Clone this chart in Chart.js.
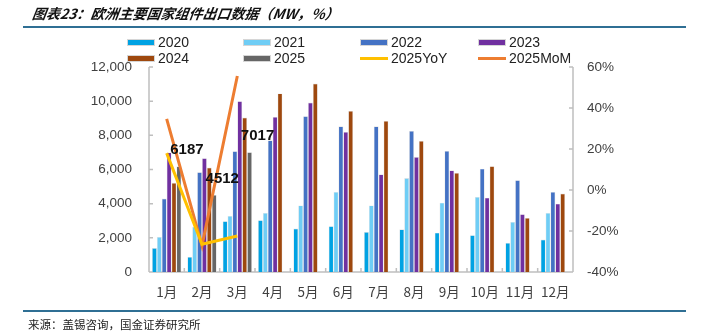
<!DOCTYPE html>
<html>
<head>
<meta charset="utf-8">
<script src="https://cdn.jsdelivr.net/npm/chart.js@4.4.1/dist/chart.umd.min.js"></script>
<style>
  html, body { margin: 0; padding: 0; background: #fff; }
  #wrap { position: relative; width: 702px; height: 333px; overflow: hidden; font-family: "Liberation Sans", Arial, sans-serif; }
  #c { position: absolute; left: 0; top: 0; }
  .title { position: absolute; left: 31px; top: 3px; font-family: "Noto Sans CJK SC", sans-serif; font-size: 14px; font-weight: bold; font-style: italic; color: #111; line-height: 20px; white-space: nowrap; transform: skewX(-8deg); transform-origin: left bottom; }
  .rule { position: absolute; left: 23px; width: 663px; height: 2px; background: #2f6f94; }
  .source { position: absolute; left: 28px; top: 316px; font-family: "Noto Sans CJK SC", sans-serif; font-size: 11.5px; color: #222; line-height: 16px; white-space: nowrap; }
  .lg { position: absolute; height: 16px; line-height: 16px; font-size: 14px; color: #222; white-space: nowrap; }
  .sw { position: absolute; left: 0; width: 28px; box-sizing: border-box; }
  .lg span { position: absolute; left: 31px; top: 0; }
</style>
</head>
<body>
<div id="wrap">
  <canvas id="c" width="702" height="333"></canvas>
  <div class="title">图表23：欧洲主要国家组件出口数据（MW，%）</div>
  <div class="rule" style="top:26px"></div>
  <div class="rule" style="top:310px"></div>
  <div class="source">来源：盖锡咨询，国金证券研究所</div>
  <div id="legend"></div>
</div>
<script>
// Monthly module exports from major European countries (MW) and 2025 growth rates (%)
const months = ['1月','2月','3月','4月','5月','6月','7月','8月','9月','10月','11月','12月'];

const exp2020 = [1400, 880, 2970, 3030, 2540, 2680, 2340, 2500, 2300, 2150, 1700, 1900];
const exp2021 = [2050, 2650, 3280, 3460, 3900, 4690, 3900, 5500, 4060, 4390, 2930, 3460];
const exp2022 = [4300, 5840, 7070, 7710, 9120, 8530, 8530, 8260, 7090, 6050, 5370, 4690];
const exp2023 = [7000, 6660, 10000, 9080, 9920, 8200, 5720, 6730, 5950, 4350, 3380, 4000];
const exp2024 = [5220, 6110, 9040, 10450, 11030, 9430, 8840, 7670, 5800, 6190, 3160, 4590];
const exp2025 = [6187, 4512, 7017, null, null, null, null, null, null, null, null, null];

const yoy2025 = [18, -26.5, -22.4, null, null, null, null, null, null, null, null, null];
const mom2025 = [34.7, -27.1, 55.6, null, null, null, null, null, null, null, null, null];

const leftTicks = [0, 2000, 4000, 6000, 8000, 10000, 12000];
const rightTicks = [-40, -20, 0, 20, 40, 60];

const C = {
  y2020: '#00A2E3', y2021: '#6FCDF5', y2022: '#4472C4', y2023: '#7030A0',
  y2024: '#9E480E', y2025: '#666666', yoy: '#FFC000', mom: '#ED7D31',
  axis: '#BFBFBF', text: '#404040'
};

// Legend, laid out in two rows of four
const legendItems = [
  { t: '2020', c: C.y2020, k: 'bar' }, { t: '2021', c: C.y2021, k: 'bar' },
  { t: '2022', c: C.y2022, k: 'bar' }, { t: '2023', c: C.y2023, k: 'bar' },
  { t: '2024', c: C.y2024, k: 'bar' }, { t: '2025', c: C.y2025, k: 'bar' },
  { t: '2025YoY', c: C.yoy, k: 'line' }, { t: '2025MoM', c: C.mom, k: 'line' }
];
const colX = [127, 243, 360, 478];
const rowY = [34, 49.5];
const lg = document.getElementById('legend');
legendItems.forEach((it, i) => {
  const d = document.createElement('div');
  d.className = 'lg';
  d.style.left = colX[i % 4] + 'px';
  d.style.top = rowY[Math.floor(i / 4)] + 'px';
  const s = document.createElement('div');
  s.className = 'sw';
  if (it.k === 'bar') {
    s.style.top = '5px'; s.style.height = '7px';
    s.style.background = it.c; s.style.border = '1px solid #d6d6d6';
  } else {
    s.style.top = '7px'; s.style.height = '3px'; s.style.background = it.c;
  }
  const t = document.createElement('span');
  t.textContent = it.t;
  d.appendChild(s); d.appendChild(t);
  lg.appendChild(d);
});

function barSet(label, data, color) {
  return {
    type: 'bar', label, data, yAxisID: 'y', order: 10,
    backgroundColor: color, borderColor: '#e2e2e2', borderWidth: 0.6,
    categoryPercentage: 0.83, barPercentage: 1.0
  };
}
function lineSet(label, data, color, order) {
  return {
    type: 'line', label, data, yAxisID: 'y1', order,
    borderColor: color, backgroundColor: color, borderWidth: 3,
    pointRadius: 0, tension: 0, spanGaps: false
  };
}

// Axis lines with inward tick marks
const axisPlugin = {
  id: 'axisLines',
  beforeDatasetsDraw(chart) {
    const { ctx, chartArea: a, scales } = chart;
    ctx.save();
    ctx.strokeStyle = C.axis;
    ctx.lineWidth = 1.5;
    ctx.beginPath();
    ctx.moveTo(a.left, a.top); ctx.lineTo(a.left, a.bottom);
    ctx.moveTo(a.right, a.top); ctx.lineTo(a.right, a.bottom);
    ctx.moveTo(a.left, a.bottom); ctx.lineTo(a.right, a.bottom);
    leftTicks.forEach(v => { const y = scales.y.getPixelForValue(v); ctx.moveTo(a.left, y); ctx.lineTo(a.left + 4, y); });
    rightTicks.forEach(v => { const y = scales.y1.getPixelForValue(v); ctx.moveTo(a.right, y); ctx.lineTo(a.right - 4, y); });
    const w = (a.right - a.left) / months.length;
    for (let i = 1; i < months.length; i++) {
      const x = a.left + i * w;
      ctx.moveTo(x, a.bottom); ctx.lineTo(x, a.bottom - 4);
    }
    ctx.stroke();
    ctx.restore();
  }
};

// Value labels for the 2025 bars
const valueLabels = {
  id: 'valueLabels',
  afterDatasetsDraw(chart) {
    const idx = chart.data.datasets.findIndex(d => d.label === '2025');
    const meta = chart.getDatasetMeta(idx);
    const { ctx } = chart;
    ctx.save();
    ctx.font = 'bold 15px "Liberation Sans", Arial, sans-serif';
    ctx.fillStyle = '#111';
    ctx.textAlign = 'center';
    ctx.textBaseline = 'middle';
    meta.data.forEach((el, i) => {
      const v = exp2025[i];
      if (v == null) return;
      ctx.fillText(String(v), el.x + 8, el.y - 16);
    });
    ctx.restore();
  }
};

const tickFont = { family: '"Liberation Sans", Arial, sans-serif', size: 13.5 };

new Chart(document.getElementById('c'), {
  data: {
    labels: months,
    datasets: [
      barSet('2020', exp2020, C.y2020),
      barSet('2021', exp2021, C.y2021),
      barSet('2022', exp2022, C.y2022),
      barSet('2023', exp2023, C.y2023),
      barSet('2024', exp2024, C.y2024),
      barSet('2025', exp2025, C.y2025),
      lineSet('2025MoM', mom2025, C.mom, 2),
      lineSet('2025YoY', yoy2025, C.yoy, 1)
    ]
  },
  options: {
    responsive: false,
    animation: false,
    layout: { padding: { top: 67, left: 0, right: 0, bottom: 0 } },
    plugins: { legend: { display: false }, tooltip: { enabled: false }, title: { display: false } },
    scales: {
      x: {
        grid: { display: false, drawTicks: false },
        border: { display: false },
        ticks: { color: C.text, font: { family: '"Noto Sans CJK SC", sans-serif', size: 13.5 }, padding: 12, maxRotation: 0, autoSkip: false },
        afterFit(s) { s.height = 61; }
      },
      y: {
        position: 'left', min: 0, max: 12000,
        grid: { display: false, drawTicks: false },
        border: { display: false },
        ticks: {
          color: C.text, font: tickFont, padding: 17,
          stepSize: 2000,
          callback: v => v.toLocaleString('en-US')
        },
        afterBuildTicks(s) { s.ticks = leftTicks.map(v => ({ value: v })); },
        afterFit(s) { s.width = 149; }
      },
      y1: {
        position: 'right', min: -40, max: 60,
        grid: { display: false, drawTicks: false },
        border: { display: false },
        ticks: { color: C.text, font: tickFont, padding: 14, stepSize: 20, callback: v => v + '%' },
        afterBuildTicks(s) { s.ticks = rightTicks.map(v => ({ value: v })); },
        afterFit(s) { s.width = 129; }
      }
    }
  },
  plugins: [axisPlugin, valueLabels]
});
</script>
</body>
</html>
